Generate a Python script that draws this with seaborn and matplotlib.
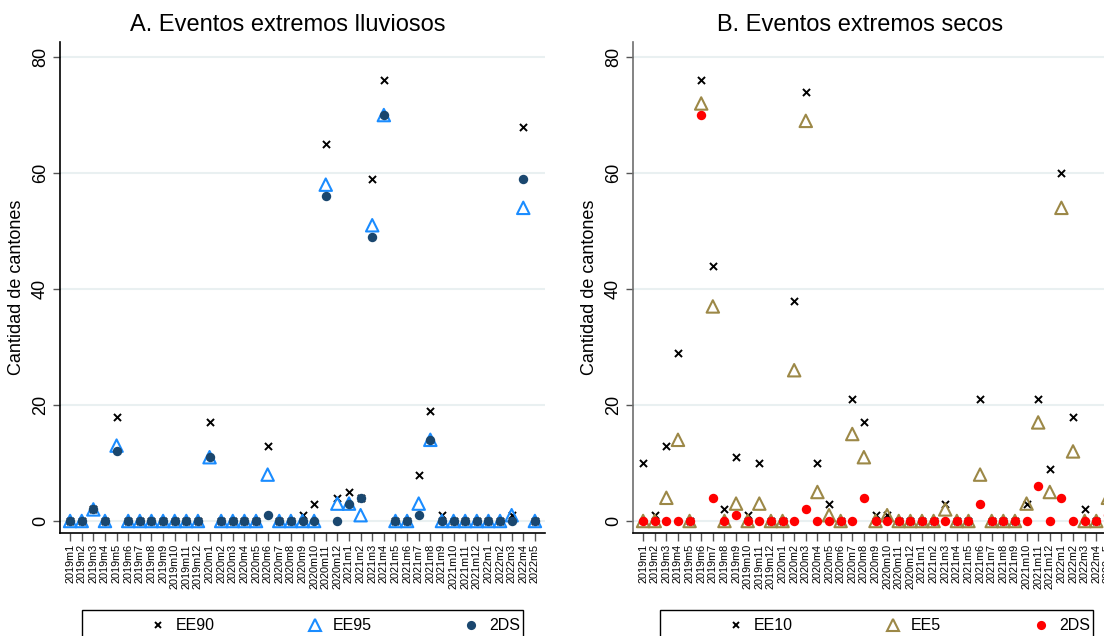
import matplotlib
matplotlib.use("Agg")
import matplotlib.pyplot as plt
from matplotlib.patches import Rectangle
from matplotlib.lines import Line2D
import pandas as pd
import seaborn as sns

# Monthly periods, 2019m1 .. 2022m5
months = [
    "2019m1", "2019m2", "2019m3", "2019m4", "2019m5", "2019m6", "2019m7", "2019m8",
    "2019m9", "2019m10", "2019m11", "2019m12",
    "2020m1", "2020m2", "2020m3", "2020m4", "2020m5", "2020m6", "2020m7", "2020m8",
    "2020m9", "2020m10", "2020m11", "2020m12",
    "2021m1", "2021m2", "2021m3", "2021m4", "2021m5", "2021m6", "2021m7", "2021m8",
    "2021m9", "2021m10", "2021m11", "2021m12",
    "2022m1", "2022m2", "2022m3", "2022m4", "2022m5",
]

# Panel A: extreme rainfall events (number of cantons)
ee90 = [0, 0, 2, 0, 18, 0, 0, 0, 0, 0, 0, 0,
        17, 0, 0, 0, 0, 13, 0, 0, 1, 3, 65, 4,
        5, 4, 59, 76, 0, 0, 8, 19, 1, 0, 0, 0,
        0, 0, 1, 68, 0]
ee95 = [0, 0, 2, 0, 13, 0, 0, 0, 0, 0, 0, 0,
        11, 0, 0, 0, 0, 8, 0, 0, 0, 0, 58, 3,
        3, 1, 51, 70, 0, 0, 3, 14, 0, 0, 0, 0,
        0, 0, 1, 54, 0]
ds2_wet = [0, 0, 2, 0, 12, 0, 0, 0, 0, 0, 0, 0,
           11, 0, 0, 0, 0, 1, 0, 0, 0, 0, 56, 0,
           3, 4, 49, 70, 0, 0, 1, 14, 0, 0, 0, 0,
           0, 0, 0, 59, 0]

# Panel B: extreme dry events (number of cantons)
ee10 = [10, 1, 13, 29, 0, 76, 44, 2, 11, 1, 10, 0,
        0, 38, 74, 10, 3, 0, 21, 17, 1, 1, 0, 0,
        0, 0, 3, 0, 0, 21, 0, 0, 0, 3, 21, 9,
        60, 18, 2, 0, 7]
ee5 = [0, 0, 4, 14, 0, 72, 37, 0, 3, 0, 3, 0,
       0, 26, 69, 5, 1, 0, 15, 11, 0, 1, 0, 0,
       0, 0, 2, 0, 0, 8, 0, 0, 0, 3, 17, 5,
       54, 12, 0, 0, 4]
ds2_dry = [0, 0, 0, 0, 0, 70, 4, 0, 1, 0, 0, 0,
           0, 0, 2, 0, 0, 0, 0, 4, 0, 0, 0, 0,
           0, 0, 0, 0, 0, 3, 0, 0, 0, 0, 6, 0,
           4, 0, 0, 0, 1]

sns.set_theme(style="white")
plt.rcParams["font.family"] = ["Liberation Sans", "DejaVu Sans"]
plt.rcParams.update({"text.color": "black", "axes.labelcolor": "black",
                     "xtick.color": "black", "ytick.color": "black"})

W, H = 1104, 636
fig = plt.figure(figsize=(W / 100, H / 100), dpi=100)

def fx(px):
    return px / W

def fy(py):
    return 1 - py / H

ax_w = 485
ax_top, ax_bot = 42, 533
axA = fig.add_axes([fx(60), fy(ax_bot), fx(ax_w), (ax_bot - ax_top) / H])
axB = fig.add_axes([fx(633), fy(ax_bot), fx(ax_w), (ax_bot - ax_top) / H])

GRID = "#e9f0f1"
X_KW = dict(marker="x", s=26, color="black", linewidth=1.4)
TRI_KW = dict(marker="^", s=80, facecolor="none", linewidth=1.5)
DOT_KW = dict(marker="o", s=46, linewidth=0)

panels = [
    (axA, "A. Eventos extremos lluviosos", 288,
     [("EE90", ee90, None), ("EE95", ee95, "#1a8cff"), ("2DS", ds2_wet, "#1a476f")],
     "black", (82, 523)),
    (axB, "B. Eventos extremos secos", 860,
     [("EE10", ee10, None), ("EE5", ee5, "#9c8847"), ("2DS", ds2_dry, "#ff0000")],
     "#6e6e6e", (660, 1093)),
]

for ax, title, tx, series, spine_col, (lx0, lx1) in panels:
    df = pd.DataFrame({"mes": months})
    for name, vals, _ in series:
        df[name] = vals
    (n0, v0, _), (n1, v1, c1), (n2, v2, c2) = series
    sns.scatterplot(data=df, x="mes", y=n0, ax=ax, zorder=3, **X_KW)
    sns.scatterplot(data=df, x="mes", y=n1, ax=ax, edgecolor=c1, zorder=4, **TRI_KW)
    sns.scatterplot(data=df, x="mes", y=n2, ax=ax, color=c2, zorder=5, **DOT_KW)

    ax.set_xlim(-0.87, len(months) - 1 + 0.87)
    ax.set_ylim(-2.07, 82.6)
    ax.set_yticks([0, 20, 40, 60, 80])
    ax.set_xticks(range(len(months)))
    ax.set_xticklabels(months, rotation=90, fontsize=7.8)
    for lab in ax.get_yticklabels():
        lab.set_rotation(90)
        lab.set_va("center")
    ax.tick_params(axis="y", labelsize=13, length=5, width=1, color="#555555",
                   labelcolor="black", direction="out", left=True, pad=3)
    ax.tick_params(axis="x", length=6, width=1, color="#555555",
                   labelcolor="black", direction="out", bottom=True, pad=2)
    ax.grid(axis="y", color=GRID, linewidth=1.5, zorder=0)
    ax.grid(axis="x", visible=False)
    ax.set_axisbelow(True)
    for s in ("top", "right"):
        ax.spines[s].set_visible(False)
    ax.spines["left"].set_color(spine_col)
    ax.spines["bottom"].set_color("black")
    ax.spines["left"].set_linewidth(1.2)
    ax.spines["bottom"].set_linewidth(1.2)
    ax.set_xlabel("")
    ax.set_ylabel("Cantidad de cantones", fontsize=13, labelpad=5, color="black")

    fig.text(fx(tx), fy(25), title, ha="center", va="center", fontsize=17,
             color="black")

    # legend frame and entries
    fig.patches.append(Rectangle((fx(lx0), fy(648)), fx(lx1 - lx0), (648 - 610) / H,
                                 transform=fig.transFigure, facecolor="white",
                                 edgecolor="black", linewidth=1.0, zorder=1))
    handles = [
        Line2D([], [], linestyle="none", marker="x", color="black",
               markersize=5, markeredgewidth=1.4),
        Line2D([], [], linestyle="none", marker="^", markerfacecolor="none",
               markeredgecolor=c1, markersize=8.5, markeredgewidth=1.5),
        Line2D([], [], linestyle="none", marker="o", color=c2, markersize=6.6,
               markeredgewidth=0),
    ]
    lg_x0 = lx0 + 68
    lg_x1 = lx1 - 3
    leg = fig.legend(handles, [n0, n1, n2], loc="center left",
                     bbox_to_anchor=(fx(lg_x0), fy(626), fx(lg_x1 - lg_x0), 0),
                     bbox_transform=fig.transFigure, mode="expand", ncol=3,
                     frameon=False, fontsize=11.5, handlelength=1.0,
                     handletextpad=0.6, borderpad=0, borderaxespad=0)
    for t in leg.get_texts():
        t.set_color("black")
    leg.set_zorder(2)

fig.savefig("out.png", dpi=100)
